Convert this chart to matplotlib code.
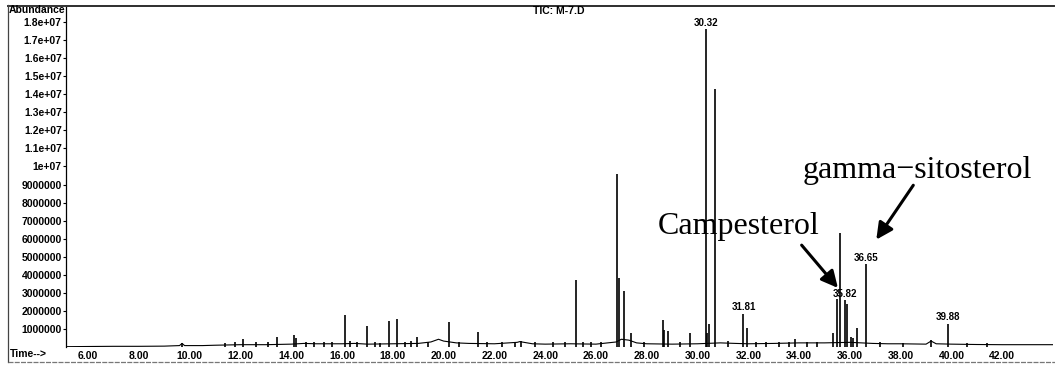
import numpy as np
import matplotlib.pyplot as plt
from matplotlib.lines import Line2D

# 피크 목록 (분, 1e6 단위 강도)
peak_times = [9.69, 11.40, 11.80, 12.10, 12.60, 13.10, 13.43, 14.11, 14.20,
              14.60, 14.90, 15.30, 15.60, 16.13, 16.30, 16.60, 16.97, 17.30,
              17.50, 17.85, 18.17, 18.50, 18.70, 18.94, 19.40, 20.21, 20.60,
              21.34, 21.70, 22.30, 22.81, 23.04, 23.60, 24.30, 24.80, 25.21,
              25.50, 25.80, 26.20, 26.84, 26.90, 27.10, 27.40, 27.90, 28.65,
              28.70, 28.85, 29.30, 29.70, 30.32, 30.38, 30.45, 30.69, 31.20,
              31.81, 31.94, 32.30, 32.69, 33.20, 33.60, 33.82, 34.30, 34.70,
              35.32, 35.49, 35.63, 35.82, 35.88, 36.04, 36.13, 36.29, 36.65,
              37.20, 38.10, 39.21, 39.88, 40.60, 41.40]
peak_heights = [0.25, 0.25, 0.30, 0.45, 0.28, 0.30, 0.55, 0.70, 0.50,
                0.30, 0.30, 0.28, 0.30, 1.77, 0.35, 0.30, 1.20, 0.30,
                0.25, 1.48, 1.59, 0.30, 0.35, 0.55, 0.30, 1.39, 0.30,
                0.84, 0.30, 0.28, 0.30, 0.35, 0.30, 0.28, 0.30, 3.70,
                0.30, 0.30, 0.30, 9.60, 3.85, 3.10, 0.80, 0.30, 1.50,
                0.95, 0.90, 0.30, 0.80, 17.60, 0.80, 1.30, 14.30, 0.35,
                1.87, 1.06, 0.30, 0.30, 0.28, 0.30, 0.45, 0.30, 0.28,
                0.77, 2.70, 6.30, 2.60, 2.40, 0.60, 0.50, 1.05, 4.60,
                0.28, 0.25, 0.40, 1.30, 0.22, 0.22]

# 베이스라인 (읽은 값)
base_times = [5.13, 6.0, 7.0, 8.0, 9.0, 9.6, 9.7, 9.8, 10.5, 11.0, 12.0, 13.0,
              14.0, 14.5, 15.0, 16.0, 16.5, 17.0, 18.0, 19.0, 19.5, 19.8,
              20.0, 20.5, 21.0, 22.0, 22.9, 23.0, 23.5, 24.0, 25.0, 26.0,
              26.8, 27.0, 27.3, 27.6, 28.0, 29.0, 30.0, 30.9, 31.5, 32.0,
              33.0, 34.0, 35.0, 36.0, 36.9, 37.5, 38.0, 39.0, 39.2, 39.4,
              40.0, 41.0, 42.0, 43.0, 44.0]
base_values = [0.04, 0.05, 0.06, 0.06, 0.07, 0.10, 0.22, 0.10, 0.10, 0.12, 0.15,
               0.15, 0.18, 0.22, 0.20, 0.20, 0.22, 0.18, 0.20, 0.22, 0.30, 0.45,
               0.35, 0.25, 0.22, 0.20, 0.28, 0.32, 0.20, 0.18, 0.20, 0.18,
               0.30, 0.45, 0.40, 0.25, 0.20, 0.18, 0.20, 0.25, 0.22, 0.20,
               0.22, 0.25, 0.25, 0.28, 0.22, 0.20, 0.20, 0.18, 0.35, 0.20,
               0.18, 0.16, 0.15, 0.15, 0.15]

# 라벨 붙은 피크
label_times = [30.32, 31.81, 35.82, 36.65, 39.88]
label_heights = [17.60, 1.87, 2.60, 4.60, 1.30]

xticks = [6, 8, 10, 12, 14, 16, 18, 20, 22, 24, 26, 28, 30, 32, 34, 36, 38, 40, 42]
yticks = list(range(1, 19))

W, H = 1055, 365
fig = plt.figure(figsize=(W / 100, H / 100), dpi=100)
ax = fig.add_axes([66 / W, (H - 347.4) / H, (1053 - 66) / W, (347.4 - 6) / H])

sans = 'Liberation Sans'
serif = 'Liberation Serif'

ax.plot(base_times, np.array(base_values) * 1e6, color='black', lw=0.8)
ax.vlines(peak_times, 0, np.array(peak_heights) * 1e6, color='black', lw=1.2)

ax.set_xlim(5.13, 44.0)
ax.set_ylim(0, 18.87e6)

ax.set_xticks(xticks)
ax.set_xticklabels([f'{t:.2f}' for t in xticks], fontsize=7.5, fontweight='bold',
                   family=sans)
ax.set_yticks([v * 1e6 for v in yticks])
ylabels = [f'{v}000000' if v < 10 else ('1e+07' if v == 10 else f'{v / 10:.1f}e+07')
           for v in yticks]
ax.set_yticklabels(ylabels, fontsize=7.5, fontweight='bold', family=sans)
ax.tick_params(axis='x', length=0, pad=2.5)
ax.tick_params(axis='y', length=2, width=0.8, pad=1)

for side in ['right', 'bottom']:
    ax.spines[side].set_visible(False)
ax.spines['left'].set_linestyle((0, (2, 1)))
ax.spines['left'].set_linewidth(0.9)
ax.spines['top'].set_linewidth(1.4)
ax.spines['top'].set_color('#333333')

for t, h in zip(label_times, label_heights):
    ax.annotate(f'{t:.2f}', (t, h * 1e6), xytext=(0, 1), textcoords='offset points',
                ha='center', va='bottom', fontsize=7, fontweight='bold', family=sans)

# 화합물 주석
ax.text(31.6, 6.71e6, 'Campesterol', family=serif, fontsize=23,
        ha='center', va='center')
ax.text(38.64, 9.8e6, 'gamma\u2212sitosterol', family=serif, fontsize=23,
        ha='center', va='center')
arrow = dict(arrowstyle='-|>,head_length=1.0,head_width=0.5', color='black', lw=2.2)
ax.annotate('', xy=(35.6, 3.17e6), xytext=(34.03, 5.77e6), arrowprops=arrow)
ax.annotate('', xy=(36.98, 5.83e6), xytext=(38.56, 9.09e6), arrowprops=arrow)

# 헤더, 테두리
fig.text(559 / W, 1 - 11 / H, 'TIC: M-7.D', ha='center', va='center',
         fontsize=7.5, fontweight='bold', family=sans)
fig.text(9 / W, 1 - 10 / H, 'Abundance', ha='left', va='center',
         fontsize=7.5, fontweight='bold', family=sans)
fig.text(10 / W, 1 - 354 / H, 'Time-->', ha='left', va='center',
         fontsize=7.5, fontweight='bold', family=sans)
fig.add_artist(Line2D([8 / W, 1], [1 - 5.5 / H, 1 - 5.5 / H], color='#333333', lw=1.4))
fig.add_artist(Line2D([8 / W, 8 / W], [1 - 5 / H, 1 - 362 / H], color='#444444', lw=0.9))
fig.add_artist(Line2D([8 / W, 1], [1 - 362 / H, 1 - 362 / H], color='#777777', lw=0.9,
                      linestyle=(0, (4, 1))))

fig.savefig('out.png', dpi=100)
